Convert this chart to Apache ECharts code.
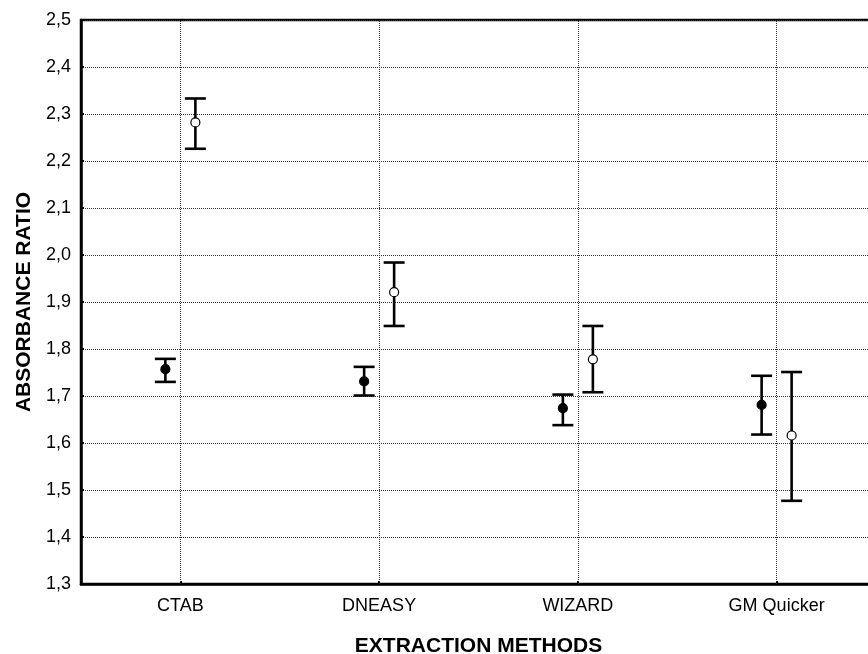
<!DOCTYPE html>
<html>
<head>
<meta charset="utf-8">
<script src="https://cdn.jsdelivr.net/npm/echarts@6/dist/echarts.min.js"></script>
<style>
  html, body { margin: 0; padding: 0; background: #fff; }
  #main { width: 868px; height: 654px; }
</style>
</head>
<body>
<div id="main"></div>
<script>
// categories
const methods = ['CTAB', 'DNEASY', 'WIZARD', 'GM Quicker']

// filled dots (left of each category)
const filledMean = [1.757, 1.731, 1.674, 1.681]
const filledLow  = [1.730, 1.701, 1.638, 1.618]
const filledHigh = [1.779, 1.762, 1.703, 1.743]

// open circles (right of each category)
const openMean = [2.282, 1.921, 1.778, 1.616]
const openLow  = [2.226, 1.849, 1.708, 1.477]
const openHigh = [2.333, 1.984, 1.849, 1.751]

const yTicks = [1.3, 1.4, 1.5, 1.6, 1.7, 1.8, 1.9, 2.0, 2.1, 2.2, 2.3, 2.4, 2.5]

const chart = echarts.init(document.getElementById('main'))

// 误差棒 + 均值点
function makeErrorSeries(name, mean, low, high, offset, filled) {
  const data = methods.map((m, i) => [i, low[i], high[i], mean[i]])
  return {
    name: name,
    type: 'custom',
    silent: true,
    z: 10,
    data: data,
    renderItem(params, api) {
      const i = api.value(0)
      const pLow = api.coord([i, api.value(1)])
      const pHigh = api.coord([i, api.value(2)])
      const pMean = api.coord([i, api.value(3)])
      const x = pMean[0] + offset
      const half = 10.5
      const ls = { stroke: '#000', lineWidth: 2.6 }
      return {
        type: 'group',
        children: [
          { type: 'line', shape: { x1: x, y1: pLow[1], x2: x, y2: pHigh[1] }, style: ls },
          { type: 'line', shape: { x1: x - half, y1: pHigh[1], x2: x + half, y2: pHigh[1] }, style: ls },
          { type: 'line', shape: { x1: x - half, y1: pLow[1], x2: x + half, y2: pLow[1] }, style: ls },
          {
            type: 'circle',
            shape: { cx: x, cy: pMean[1], r: 4.5 },
            style: { fill: filled ? '#000' : '#fff', stroke: '#000', lineWidth: 1.2 }
          }
        ]
      }
    }
  }
}

const option = {
  animation: false,
  backgroundColor: '#fff',
  grid: {
    left: 81,
    top: 20,
    right: -8,
    bottom: 70,
    outerBoundsMode: 'none',
    containLabel: false,
    show: true,
    borderColor: '#000',
    borderWidth: 2.5,
    backgroundColor: 'transparent'
  },
  xAxis: {
    type: 'category',
    data: methods,
    name: 'EXTRACTION METHODS',
    nameLocation: 'middle',
    nameGap: 52,
    nameTextStyle: { fontFamily: 'Liberation Sans', fontWeight: 'bold', fontSize: 21, color: '#000' },
    axisLine: { lineStyle: { color: '#000', width: 2.5 } },
    axisTick: { show: true, alignWithLabel: true, inside: true, length: 3, lineStyle: { color: '#000', width: 2 } },
    axisLabel: { fontFamily: 'Liberation Sans', fontSize: 18, color: '#000', margin: 13 },
    splitLine: { show: false }
  },
  yAxis: {
    type: 'value',
    min: 1.3,
    max: 2.5,
    interval: 0.1,
    name: 'ABSORBANCE RATIO',
    nameLocation: 'middle',
    nameGap: 46,
    nameTextStyle: { fontFamily: 'Liberation Sans', fontWeight: 'bold', fontSize: 21, color: '#000' },
    axisLine: { show: true, lineStyle: { color: '#000', width: 2.5 } },
    axisTick: { show: true, inside: true, length: 3, lineStyle: { color: '#000', width: 2 } },
    axisLabel: {
      fontFamily: 'Liberation Sans', fontSize: 18, color: '#000', margin: 10,
      formatter: v => {
        const t = yTicks.find(k => Math.abs(k - v) < 1e-6)
        return t === undefined ? '' : t.toFixed(1).replace('.', ',')
      }
    },
    splitLine: { show: true, lineStyle: { color: '#333', width: 1, type: [1, 1] } }
  },
  series: [
    {
      // 类别中心的竖向网格线
      name: 'grid-v',
      type: 'line',
      data: [],
      silent: true,
      markLine: {
        silent: true,
        symbol: 'none',
        label: { show: false },
        lineStyle: { color: '#333', width: 1, type: [1, 1] },
        data: methods.map(m => ({ xAxis: m }))
      }
    },
    makeErrorSeries('filled', filledMean, filledLow, filledHigh, -15, true),
    makeErrorSeries('open', openMean, openLow, openHigh, 15, false)
  ]
}

chart.setOption(option)
</script>
</body>
</html>
